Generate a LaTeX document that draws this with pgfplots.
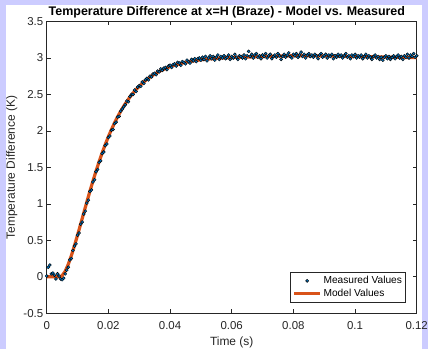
\documentclass[border=0pt]{standalone}
\usepackage{fontspec}
\setmainfont{Liberation Sans}
\usepackage{pgfplots}
\pgfplotsset{compat=1.18}
\definecolor{mblue}{rgb}{0,0.447,0.741}
\definecolor{morange}{rgb}{0.85,0.325,0.098}
\definecolor{axgray}{rgb}{0.15,0.15,0.15}
\definecolor{lav}{RGB}{204,204,255}
\pgfplotsset{
  measleg/.style={legend image code/.code={\draw[##1] plot coordinates {(13bp,0bp)};\path (0bp,0bp) (26bp,0bp);}},
  modleg/.style={legend image code/.code={\draw[##1] (0bp,0bp) -- (26bp,0bp);}}
}
\begin{document}
\begin{tikzpicture}
\useasboundingbox (-46.7bp,-35.8bp) rectangle (381.3bp,313.2bp);
\fill[lav] (-46.7bp,-35.8bp) rectangle (381.3bp,313.2bp);
\fill[white] (-40.7bp,-35.8bp) rectangle (374.8bp,308.2bp);
\begin{axis}[
  at={(0,0)}, anchor=south west,
  scale only axis, width=370bp, height=291.7bp,
  xmin=0, xmax=0.12, ymin=-0.5, ymax=3.5,
  xtick={0,0.02,0.04,0.06,0.08,0.1,0.12},
  xticklabels={0,0.02,0.04,0.06,0.08,0.1,0.12},
  ytick={-0.5,0,0.5,1,1.5,2,2.5,3,3.5},
  yticklabels={-0.5,0,0.5,1,1.5,2,2.5,3,3.5},
  tick align=inside, major tick length=4bp,
  axis line style={axgray, line width=0.6bp},
  tick style={axgray, line width=0.6bp},
  ticklabel style={font=\fontsize{11.5}{13}\selectfont, text=axgray},
  xticklabel style={yshift=-4.5bp},
  yticklabel style={xshift=0bp},
  xlabel={Time (s)},
  ylabel={Temperature Difference (K)},
  label style={font=\fontsize{12}{14}\selectfont, text=axgray},
  xlabel style={at={(axis description cs:0.5,-0.101)}, anchor=center},
  ylabel style={at={(axis description cs:-0.0946,0.4995)}, anchor=center},
  every axis title shift=0pt,
  title={Temperature Difference at x=H (Braze) - Model vs. Measured},
  title style={font=\fontsize{12.5}{14}\selectfont\bfseries, at={(axis description cs:0.487,1.031)}, anchor=center, yshift=0pt},
  legend style={at={(axis description cs:0.971,0.0374)}, anchor=south east,
    draw=axgray, line width=0.5bp, font=\fontsize{10.2}{12}\selectfont,
    inner sep=2bp, row sep=0.5bp, cells={anchor=west},
    nodes={inner sep=1.8bp}},
  legend cell align=left,
]
\addplot[only marks, mark=*, mark size=1.55bp, mark options={draw=none, fill=mblue}, measleg]
coordinates {
(0.0000,0.01) (0.0005,0.13) (0.0010,0.16) (0.0015,0.04) (0.0020,0.05) (0.0025,0.02)
(0.0030,-0.03) (0.0035,0.04) (0.0040,0.01) (0.0045,-0.03) (0.0050,-0.04) (0.0055,-0.02)
(0.0060,0.04) (0.0065,0.09) (0.0070,0.13) (0.0075,0.23) (0.0080,0.25) (0.0085,0.36)
(0.0090,0.42) (0.0095,0.45) (0.0100,0.57) (0.0105,0.60) (0.0110,0.72) (0.0115,0.75)
(0.0120,0.86) (0.0125,0.90) (0.0130,1.01) (0.0135,1.05) (0.0140,1.17) (0.0145,1.19)
(0.0150,1.30) (0.0155,1.33) (0.0160,1.44) (0.0165,1.47) (0.0170,1.57) (0.0175,1.59)
(0.0180,1.69) (0.0185,1.71) (0.0190,1.80) (0.0195,1.82) (0.0200,1.91) (0.0205,1.93)
(0.0210,2.01) (0.0215,2.02) (0.0220,2.10) (0.0225,2.12) (0.0230,2.19) (0.0235,2.20)
(0.0240,2.27) (0.0245,2.30) (0.0250,2.33) (0.0255,2.36) (0.0260,2.41) (0.0265,2.40)
(0.0270,2.47) (0.0275,2.50) (0.0280,2.50) (0.0285,2.56) (0.0290,2.54) (0.0295,2.60)
(0.0300,2.62) (0.0305,2.61) (0.0310,2.67) (0.0315,2.65) (0.0320,2.70) (0.0325,2.72)
(0.0330,2.70) (0.0335,2.75) (0.0340,2.74) (0.0345,2.78) (0.0350,2.79) (0.0355,2.77)
(0.0360,2.82) (0.0365,2.81) (0.0370,2.85) (0.0375,2.83) (0.0380,2.86) (0.0385,2.87)
(0.0390,2.84) (0.0395,2.89) (0.0400,2.90) (0.0405,2.87) (0.0410,2.91) (0.0415,2.92)
(0.0420,2.89) (0.0425,2.94) (0.0430,2.93) (0.0435,2.90) (0.0440,2.95) (0.0445,2.94)
(0.0450,2.92) (0.0455,2.97) (0.0460,2.95) (0.0465,2.93) (0.0470,2.98) (0.0475,2.96)
(0.0480,2.99) (0.0485,2.95) (0.0490,2.99) (0.0495,3.00) (0.0500,2.97)
(0.0505,3.01) (0.0510,2.98) (0.0515,3.02) (0.0520,2.96) (0.0525,3.00) (0.0530,3.03)
(0.0535,2.99) (0.0540,3.02) (0.0545,2.97) (0.0550,3.01) (0.0555,3.04) (0.0560,2.98)
(0.0565,3.02) (0.0570,3.00) (0.0575,3.03) (0.0580,2.99) (0.0585,3.01) (0.0590,3.04)
(0.0595,2.98) (0.0600,3.02) (0.0605,3.00) (0.0610,3.05) (0.0615,3.01) (0.0620,2.98)
(0.0625,3.03) (0.0630,3.02) (0.0635,3.00) (0.0640,3.04) (0.0645,2.99) (0.0650,3.03)
(0.0655,3.09) (0.0660,3.02) (0.0665,3.05) (0.0670,3.00) (0.0675,3.04) (0.0680,3.06)
(0.0685,3.01) (0.0690,3.03) (0.0695,2.99) (0.0700,3.04) (0.0705,3.02) (0.0710,3.06)
(0.0715,3.00) (0.0720,3.03) (0.0725,3.05) (0.0730,2.99) (0.0735,3.02) (0.0740,3.04)
(0.0745,3.01) (0.0750,3.06) (0.0755,3.03) (0.0760,2.98) (0.0765,3.02) (0.0770,3.05)
(0.0775,3.01) (0.0780,3.04) (0.0785,3.07) (0.0790,3.02) (0.0795,3.00) (0.0800,3.05)
(0.0805,3.03) (0.0810,3.06) (0.0815,3.01) (0.0820,3.04) (0.0825,3.08) (0.0830,3.02)
(0.0835,3.05) (0.0840,3.00) (0.0845,3.04) (0.0850,3.06) (0.0855,3.02) (0.0860,3.04)
(0.0865,3.01) (0.0870,3.05) (0.0875,3.03) (0.0880,2.99) (0.0885,3.04) (0.0890,3.06)
(0.0895,3.01) (0.0900,3.03) (0.0905,3.05) (0.0910,3.00) (0.0915,3.04) (0.0920,3.02)
(0.0925,3.05) (0.0930,2.99) (0.0935,3.03) (0.0940,3.01) (0.0945,3.05) (0.0950,3.02)
(0.0955,3.04) (0.0960,3.00) (0.0965,3.03) (0.0970,3.06) (0.0975,3.01) (0.0980,3.03)
(0.0985,2.99) (0.0990,3.04) (0.0995,3.02) (0.1000,3.05) (0.1005,3.00) (0.1010,3.03)
(0.1015,3.01) (0.1020,3.04) (0.1025,2.99) (0.1030,3.02) (0.1035,3.05) (0.1040,3.00)
(0.1045,3.03) (0.1050,3.01) (0.1055,2.98) (0.1060,3.02) (0.1065,3.04) (0.1070,3.00)
(0.1075,3.02) (0.1080,2.98) (0.1085,3.01) (0.1090,2.97) (0.1095,3.01) (0.1100,3.03)
(0.1105,2.99) (0.1110,3.02) (0.1115,2.98) (0.1120,3.01) (0.1125,3.03) (0.1130,2.99)
(0.1135,3.02) (0.1140,3.04) (0.1145,3.00) (0.1150,3.02) (0.1155,2.98) (0.1160,3.03)
(0.1165,3.01) (0.1170,3.05) (0.1175,3.00) (0.1180,3.04) (0.1185,3.02) (0.1190,3.06)
(0.1195,3.01) (0.1200,3.03)
};
\addlegendentry{Measured Values}
\addplot[morange, line width=3.2bp, no marks, line join=round, modleg]
coordinates {
(0.000,0) (0.001,0) (0.002,0) (0.003,0) (0.004,0) (0.0043,0) (0.005,0.015) (0.006,0.075)
(0.007,0.170) (0.008,0.290) (0.009,0.425) (0.010,0.570) (0.011,0.720) (0.012,0.872)
(0.013,1.022) (0.014,1.170) (0.015,1.312) (0.016,1.449) (0.017,1.578) (0.018,1.700)
(0.019,1.814) (0.020,1.921) (0.021,2.018) (0.022,2.109) (0.023,2.193) (0.024,2.270)
(0.025,2.340) (0.026,2.405) (0.027,2.464) (0.028,2.518) (0.029,2.567) (0.030,2.612)
(0.031,2.652) (0.032,2.689) (0.033,2.722) (0.034,2.752) (0.035,2.779) (0.036,2.804)
(0.037,2.826) (0.038,2.846) (0.039,2.864) (0.040,2.880) (0.042,2.907) (0.044,2.930)
(0.046,2.948) (0.048,2.962) (0.050,2.975) (0.052,2.984) (0.054,2.991) (0.056,2.997)
(0.058,3.002) (0.060,3.006) (0.065,3.013) (0.070,3.020) (0.080,3.030) (0.090,3.028)
(0.100,3.020) (0.110,3.012) (0.120,3.005)
};
\addlegendentry{Model Values}
\end{axis}
\end{tikzpicture}
\end{document}
